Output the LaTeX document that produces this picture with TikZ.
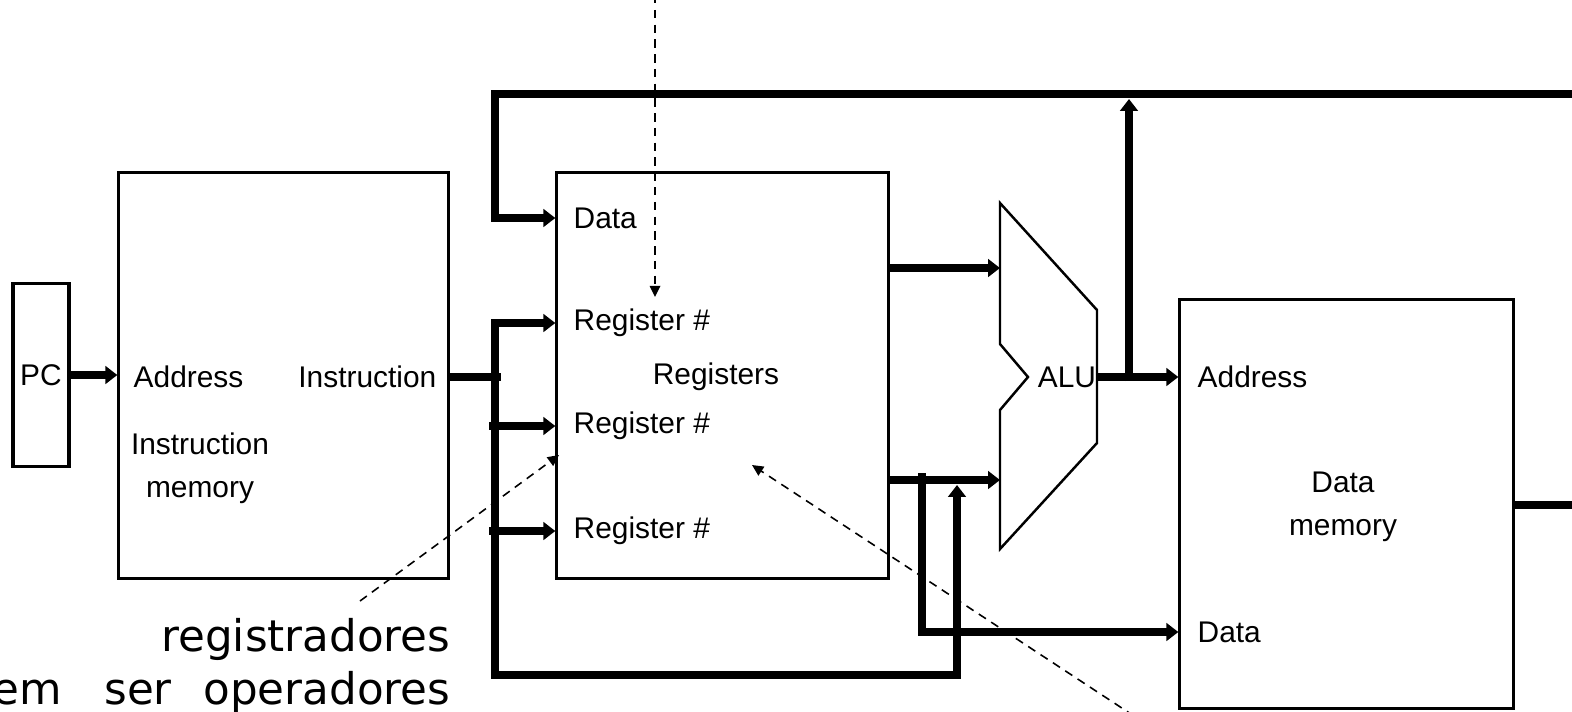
\documentclass[tikz,border=0pt]{standalone}
\usepackage{fontspec}
\setmainfont{Liberation Sans}
\newfontfamily\notefont{DejaVu Sans}
\usetikzlibrary{arrows.meta, positioning, calc}

\begin{document}
\begin{tikzpicture}[x=0.01cm, y=-0.01cm,
    >={Triangle[length=3.4pt, width=5pt]},
    box/.style={draw, line width=0.9pt, inner sep=0pt, font=\fontsize{8.5}{12.2}\selectfont},
    lbl/.style={inner sep=0pt, font=\fontsize{8.5}{12.2}\selectfont},
    bus/.style={line width=2pt},
    hint/.style={line width=0.45pt, dash pattern=on 2.4pt off 1.8pt, -{Triangle[length=3.2pt, width=3pt]}},
    note/.style={inner sep=0pt, font=\notefont\fontsize{12.4}{14}\selectfont}]

    \useasboundingbox (0,0) rectangle (1572,711);
    \fill[white] (0,0) rectangle (1572,711);
    \clip (0,0) rectangle (1572,711);

    % PC
    \node[box, minimum width=0.56cm, minimum height=1.83cm] (pc) at (41,375) {PC};

    % Instruction memory
    \node[box, minimum width=3.29cm, minimum height=4.05cm] (imem) at (283.5,375.5) {};
    \node[lbl, anchor=west] (imAddr) at (133,377) {Address};
    \node[lbl, anchor=east] (imInst) at (437,377) {Instruction};
    \node[lbl, align=center] (imName) at (200,468) {Instruction\\memory};

    % Registers
    \node[box, minimum width=3.31cm, minimum height=4.05cm] (regs) at (722.5,375.5) {};
    \node[lbl, anchor=west] (rData) at (573,218) {Data};
    \node[lbl, anchor=west] (rA) at (573,323) {Register \#};
    \node[lbl, anchor=west] (rB) at (573,426) {Register \#};
    \node[lbl, anchor=west] (rW) at (573,531) {Register \#};
    \node[lbl] (rName) at (716,377) {Registers};

    % ALU
    \draw[line width=0.7pt] (1000,203) -- (1097,310) -- (1097,443) -- (1000,549)
        -- (1000,410) -- (1028,377) -- (1000,344) -- cycle;
    \node[lbl] (aluName) at (1067,377) {ALU};
    \coordinate (aluA) at (1000,268);
    \coordinate (aluB) at (1000,480);
    \coordinate (aluOut) at (1097,377);

    % Data memory
    \node[box, minimum width=3.33cm, minimum height=4.08cm] (dmem) at (1346.5,504) {};
    \node[lbl, anchor=west] (dAddr) at (1197,377) {Address};
    \node[lbl, anchor=west] (dData) at (1197,632) {Data};
    \node[lbl, align=center] (dName) at (1343,507) {Data\\memory};

    % buses
    \draw[bus, ->] (pc.east) -- (pc.east -| imem.west);
    \coordinate (jInst) at (501,377);
    \draw[bus] (imem.east |- jInst) -- (jInst);
    \coordinate (busL) at (495,323);
    \coordinate (busB) at (495,675);
    \coordinate (busR) at (957,675);
    \coordinate (immTip) at (957,485);
    \coordinate (stub) at (489,0);
    \draw[bus, <->] (regs.west |- rA) -- (busL |- rA) -- (busB) -- (busR) -- (immTip);
    \draw[bus, ->] (stub |- rB) -- (regs.west |- rB);
    \draw[bus, ->] (stub |- rW) -- (regs.west |- rW);

    \coordinate (topL) at (495,94);
    \coordinate (topR) at (1580,94);
    \draw[bus, ->] (topR) -- (topL) -- (topL |- rData) -- (regs.west |- rData);

    \draw[bus, ->] (regs.east |- aluA) -- (aluA);
    \draw[bus, ->] (regs.east |- aluB) -- (aluB);
    \coordinate (jStore) at (922,473);
    \draw[bus, ->] (jStore) -- (jStore |- dData) -- (dmem.west |- dData);

    \draw[bus, ->] (aluOut) -- (dmem.west |- aluOut);
    \coordinate (jAddr) at (1129,381);
    \coordinate (jTop) at (1129,99);
    \draw[bus, ->] (jAddr) -- (jTop);

    \coordinate (dOut) at (1580,505);
    \draw[bus] (dmem.east |- dOut) -- (dOut);

    % hints
    \coordinate (hTop) at (655,-5);
    \coordinate (hTopTip) at (655,297);
    \draw[hint] (hTop) -- (hTopTip);
    \coordinate (hL) at (360,601);
    \coordinate (hLTip) at (559,455);
    \draw[hint] (hL) -- (hLTip);
    \coordinate (hR) at (1134,716);
    \coordinate (hRTip) at (752,465);
    \draw[hint] (hR) -- (hRTip);

    % notes
    \node[note, anchor=base east] (n1) at (451,651) {registradores};
    \node[note, anchor=base east] (n2) at (451,704) {em\hspace{12pt}ser\hspace{9pt}operadores};

\end{tikzpicture}
\end{document}
